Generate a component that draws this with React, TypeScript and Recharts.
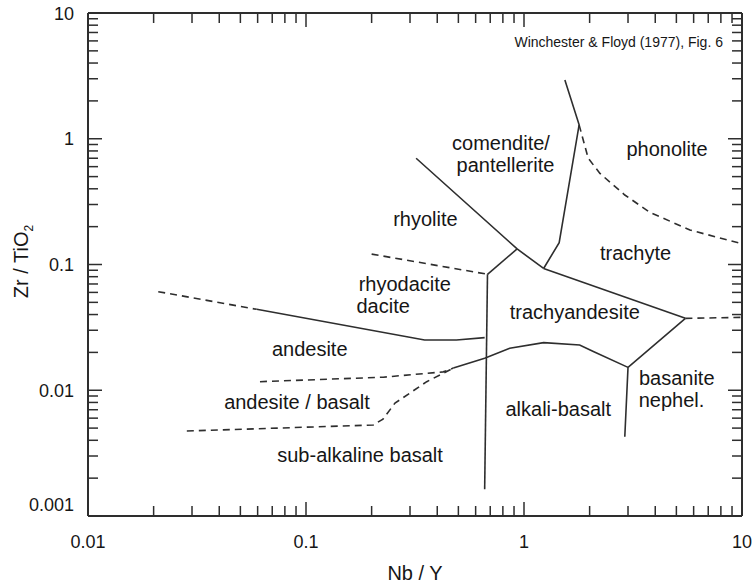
import React from 'react';
import { ScatterChart, Scatter, XAxis, YAxis } from 'recharts';

document.body.style.margin = '0';

// axis decades (log scales)
const xDecades = [0.01, 0.1, 1, 10];
const yDecades = [0.001, 0.01, 0.1, 1, 10];
const minorSteps = [2, 3, 4, 5, 6, 7, 8, 9];

// field boundaries, x = Nb/Y, y = Zr/TiO2
const rhyoliteComendite = [{ x: 0.32, y: 0.7 }, { x: 0.93, y: 0.133 }, { x: 1.23, y: 0.093 }];
const rhyoliteTrachyandesite = [{ x: 0.68, y: 0.0836 }, { x: 0.93, y: 0.133 }];
const rhyoliteRhyodacite = [{ x: 0.2, y: 0.121 }, { x: 0.68, y: 0.0836 }];
const subalkalineAlkaline = [{ x: 0.68, y: 0.0836 }, { x: 0.66, y: 0.00163 }];
const comenditeTrachyte = [{ x: 1.23, y: 0.093 }, { x: 1.45, y: 0.149 }, { x: 1.79, y: 1.29 }, { x: 1.54, y: 2.93 }];
const phonoliteTrachyte = [
  { x: 1.79, y: 1.29 }, { x: 1.97, y: 0.7 }, { x: 2.23, y: 0.53 }, { x: 2.9, y: 0.357 },
  { x: 3.78, y: 0.26 }, { x: 5.77, y: 0.188 }, { x: 10, y: 0.146 },
];
const trachyteTrachyandesite = [{ x: 1.23, y: 0.093 }, { x: 5.5, y: 0.0373 }];
const trachyteBasanite = [{ x: 5.5, y: 0.0373 }, { x: 10, y: 0.038 }];
const trachyandesiteBasanite = [{ x: 5.5, y: 0.0373 }, { x: 3.0, y: 0.0152 }, { x: 2.9, y: 0.00427 }];
const trachyandesiteAlkaliBasalt = [
  { x: 0.474, y: 0.015 }, { x: 0.66, y: 0.018 }, { x: 0.86, y: 0.0216 }, { x: 1.23, y: 0.0239 },
  { x: 1.8, y: 0.0229 }, { x: 2.08, y: 0.0203 }, { x: 3.0, y: 0.0152 },
];
const andesiteAndBasalt = [{ x: 0.0615, y: 0.0117 }, { x: 0.226, y: 0.0127 }, { x: 0.426, y: 0.014 }, { x: 0.474, y: 0.015 }];
const andBasaltSubalkaline = [
  { x: 0.0284, y: 0.00474 }, { x: 0.2035, y: 0.00529 }, { x: 0.2255, y: 0.0059 },
  { x: 0.256, y: 0.0079 }, { x: 0.358, y: 0.0117 }, { x: 0.474, y: 0.015 },
];
const andesiteDaciteDashed = [{ x: 0.021, y: 0.0608 }, { x: 0.0594, y: 0.044 }];
const andesiteDacite = [{ x: 0.0594, y: 0.044 }, { x: 0.35, y: 0.0251 }, { x: 0.49, y: 0.0251 }, { x: 0.66, y: 0.0262 }];

// field names, anchored at (x, y) in data units
const fieldNames = [
  'comendite/', 'pantellerite', 'phonolite', 'rhyolite', 'trachyte', 'rhyodacite', 'dacite',
  'trachyandesite', 'andesite', 'andesite / basalt', 'sub-alkaline basalt', 'alkali-basalt', 'basanite', 'nephel.',
];
const fieldX = [0.784, 0.8225, 4.53, 0.353, 3.25, 0.284, 0.226, 1.71, 0.104, 0.0909, 0.177, 1.436, 5.02, 4.75];
const fieldY = [0.814, 0.544, 0.729, 0.202, 0.109, 0.0616, 0.0409, 0.0369, 0.0187, 0.00706, 0.0027, 0.00624, 0.011, 0.0074];

const sourceNote = [{ x: 8.18, y: 5.36, text: 'Winchester & Floyd (1977), Fig. 6' }];

const INK = '#2e2e2e';
const TEXT = '#161616';
const FONT = '"Liberation Sans", Arial, sans-serif';

const solid = [rhyoliteComendite, rhyoliteTrachyandesite, subalkalineAlkaline, comenditeTrachyte,
  trachyteTrachyandesite, trachyandesiteBasanite, trachyandesiteAlkaliBasalt, andesiteDacite];
const dashed = [rhyoliteRhyodacite, phonoliteTrachyte, trachyteBasanite, andesiteAndBasalt,
  andBasaltSubalkaline, andesiteDaciteDashed];

const fieldLabels = fieldNames.map((name, i) => ({ x: fieldX[i], y: fieldY[i], name }));

const withMinors = (decades: number[]) =>
  decades.flatMap((d, i) => (i < decades.length - 1 ? [d, ...minorSteps.map(s => +(d * s).toPrecision(3))] : [d]));

const isDecade = (v: number) => Math.abs(Math.log10(v) - Math.round(Math.log10(v))) < 1e-6;
const fmt = (v: number) => String(parseFloat(v.toPrecision(3)));

const tickLen = (v: number) => (isDecade(v) ? 14 : 10);

const bottomTick = (p: any) => {
  const v = p.payload.value;
  return (
    <g>
      <line x1={p.x} x2={p.x} y1={p.y} y2={p.y - tickLen(v)} stroke={INK} strokeWidth={1.5} />
      {isDecade(v) && (
        <text x={p.x} y={p.y + 32} textAnchor="middle" fontSize={18} fontFamily={FONT} fill={TEXT}>{fmt(v)}</text>
      )}
    </g>
  );
};
const topTick = (p: any) => (
  <line x1={p.x} x2={p.x} y1={p.y} y2={p.y + tickLen(p.payload.value)} stroke={INK} strokeWidth={1.5} />
);
const leftTick = (p: any) => {
  const v = p.payload.value;
  return (
    <g>
      <line x1={p.x} x2={p.x + tickLen(v)} y1={p.y} y2={p.y} stroke={INK} strokeWidth={1.5} />
      {isDecade(v) && (
        <text x={p.x - 14} y={p.y + 6.5 - (v === 0.001 ? 12 : 0)} textAnchor="end" fontSize={18} fontFamily={FONT} fill={TEXT}>{fmt(v)}</text>
      )}
    </g>
  );
};
const rightTick = (p: any) => (
  <line x1={p.x} x2={p.x - tickLen(p.payload.value)} y1={p.y} y2={p.y} stroke={INK} strokeWidth={1.5} />
);

const xTitle = (props: any) => {
  const vb = props.viewBox || { x: 88, y: 516, width: 654, height: 1 };
  return (
    <text x={vb.x + vb.width / 2} y={vb.y + 64} textAnchor="middle" fontSize={20} fontFamily={FONT} fill={TEXT}>Nb / Y</text>
  );
};
const yTitle = (props: any) => {
  const vb = props.viewBox || { x: 87, y: 13, width: 1, height: 503 };
  return (
    <text transform={`translate(${vb.x - 59},${vb.y + vb.height / 2 - 3}) rotate(-90)`} textAnchor="middle" fontSize={20} fontFamily={FONT} fill={TEXT}>
      Zr / TiO<tspan fontSize={12} dy={5}>2</tspan>
    </text>
  );
};

const noDot = () => <g />;
const fieldText = (p: any) => (
  <text x={p.cx} y={p.cy} textAnchor="middle" fontSize={20} fontFamily={FONT} fill={TEXT}>{p.payload.name}</text>
);
const noteText = (p: any) => (
  <text x={p.cx} y={p.cy} textAnchor="end" fontSize={14} fontFamily={FONT} fill={TEXT}>{p.payload.text}</text>
);

export default function App() {
  const xTicks = withMinors(xDecades);
  const yTicks = withMinors(yDecades);
  const axisLine = { stroke: INK, strokeWidth: 2 };
  return (
    <div style={{ width: 754, height: 585, background: '#fff' }}>
      <ScatterChart width={754} height={585} margin={{ top: 12, right: 11, bottom: 68, left: 87 }}>
        <XAxis xAxisId="b" type="number" dataKey="x" scale="log" domain={[0.01, 10]} allowDataOverflow
          ticks={xTicks} interval={0} height={1} tickSize={0} tickMargin={0} tickLine={false}
          axisLine={axisLine} tick={bottomTick} label={xTitle} />
        <XAxis xAxisId="t" orientation="top" type="number" dataKey="x" scale="log" domain={[0.01, 10]} allowDataOverflow
          ticks={xTicks} interval={0} height={1} tickSize={0} tickMargin={0} tickLine={false}
          axisLine={axisLine} tick={topTick} />
        <YAxis yAxisId="l" type="number" dataKey="y" scale="log" domain={[0.001, 10]} allowDataOverflow
          ticks={yTicks} interval={0} width={1} tickSize={0} tickMargin={0} tickLine={false}
          axisLine={axisLine} tick={leftTick} label={yTitle} />
        <YAxis yAxisId="r" orientation="right" type="number" dataKey="y" scale="log" domain={[0.001, 10]} allowDataOverflow
          ticks={yTicks} interval={0} width={1} tickSize={0} tickMargin={0} tickLine={false}
          axisLine={axisLine} tick={rightTick} />
        {solid.map((d, i) => (
          <Scatter key={'s' + i} xAxisId="b" yAxisId="l" data={d} shape={noDot} isAnimationActive={false}
            line={{ stroke: INK, strokeWidth: 1.6 }} lineType="joint" />
        ))}
        {dashed.map((d, i) => (
          <Scatter key={'d' + i} xAxisId="b" yAxisId="l" data={d} shape={noDot} isAnimationActive={false}
            line={{ stroke: INK, strokeWidth: 1.6, strokeDasharray: '7 5' }} lineType="joint" />
        ))}
        <Scatter xAxisId="b" yAxisId="l" data={fieldLabels} shape={fieldText} isAnimationActive={false} />
        <Scatter xAxisId="b" yAxisId="l" data={sourceNote} shape={noteText} isAnimationActive={false} />
      </ScatterChart>
    </div>
  );
}
